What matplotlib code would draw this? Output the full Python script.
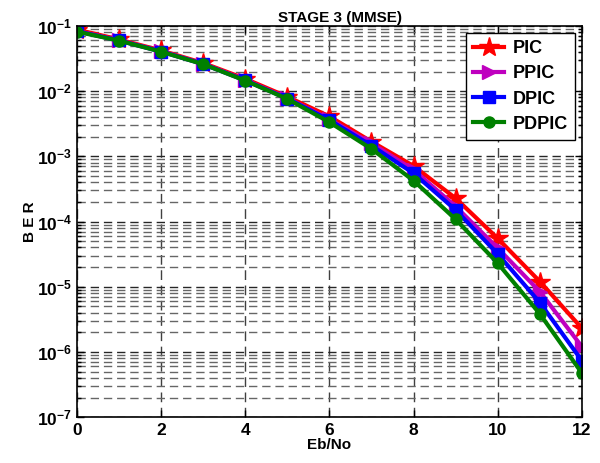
import numpy as np
import matplotlib
matplotlib.use('Agg')
import matplotlib.pyplot as plt
from matplotlib.ticker import FixedLocator, FuncFormatter, LogLocator, NullFormatter

plt.rcParams['font.family'] = ['Liberation Sans', 'DejaVu Sans']
plt.rcParams['font.weight'] = 'bold'
plt.rcParams['mathtext.fontset'] = 'custom'
plt.rcParams['mathtext.rm'] = 'Liberation Sans:bold'
plt.rcParams['mathtext.bf'] = 'Liberation Sans:bold'

ebno = [0, 1, 2, 3, 4, 5, 6, 7, 8, 9, 10, 11, 12]
ber_pic = [0.088, 0.062, 0.042, 0.027, 0.0155, 0.0082, 0.0041, 0.00168, 7.1e-4, 2.27e-4, 5.5e-5, 1.2e-5, 2.3e-6]
ber_ppic = [0.084, 0.060, 0.041, 0.0262, 0.0148, 0.0078, 0.0037, 0.00158, 6.2e-4, 1.7e-4, 3.9e-5, 8.4e-6, 1.2e-6]
ber_dpic = [0.083, 0.0598, 0.0405, 0.026, 0.0146, 0.0077, 0.0036, 0.00146, 5.5e-4, 1.5e-4, 3.18e-5, 5.7e-6, 7.3e-7]
ber_pdpic = [0.0818, 0.0595, 0.0403, 0.0259, 0.0145, 0.0076, 0.00334, 0.0013, 4.24e-4, 1.08e-4, 2.29e-5, 3.83e-6, 4.71e-7]

fig = plt.figure(figsize=(6, 4.63), dpi=100)
ax = fig.add_axes([0.128, 0.099, 0.842, 0.845])

ax.semilogy(ebno, ber_pic, color='red', lw=3, marker='*', ms=15, label='PIC')
ax.semilogy(ebno, ber_ppic, color='m', lw=3, marker='>', ms=10, label='PPIC')
ax.semilogy(ebno, ber_dpic, color='blue', lw=3, marker='s', ms=8, label='DPIC')
ax.semilogy(ebno, ber_pdpic, color='green', lw=3, marker='o', ms=8, label='PDPIC')

ax.set_xlim(0, 12)
ax.set_ylim(1e-7, 1e-1)
ax.set_xticks([0, 2, 4, 6, 8, 10, 12])
ax.yaxis.set_major_locator(FixedLocator([10.0**k for k in range(-7, 0)]))
ax.yaxis.set_major_formatter(FuncFormatter(lambda v, p: r'$\mathbf{10^{%d}}$' % round(np.log10(v))))
ax.yaxis.set_minor_locator(LogLocator(base=10, subs=np.arange(2, 10), numticks=20))
ax.yaxis.set_minor_formatter(NullFormatter())

ax.grid(True, which='major', axis='x', color='0.25', ls=(0, (7, 4)), lw=1)
ax.grid(True, which='major', axis='y', color='0.15', ls=(0, (6, 3.5)), lw=1)
ax.grid(True, which='minor', axis='y', color='0.4', ls=(0, (6, 3.5)), lw=1)
ax.set_axisbelow(True)

ax.tick_params(which='both', direction='in', top=True, right=True, labelsize=12.5, width=1)
ax.tick_params(which='major', length=5)
ax.tick_params(which='minor', length=3)
ax.tick_params(axis='x', pad=4)
for s in ax.spines.values():
    s.set_linewidth(1.2)

ax.set_title('STAGE 3 (MMSE)', fontsize=11, fontweight='bold', pad=3, x=0.52)
ax.set_xlabel('Eb/No', fontsize=11, fontweight='bold', labelpad=0)
ax.set_ylabel('B E R', fontsize=11, fontweight='bold', labelpad=0)

leg = ax.legend(loc='upper right', fontsize=13, fancybox=False, edgecolor='black',
                framealpha=1, handlelength=1.7, borderpad=0.4, labelspacing=0.45,
                handletextpad=0.45, borderaxespad=0.4)
leg.get_frame().set_linewidth(1)

fig.savefig('out.png', dpi=100)
